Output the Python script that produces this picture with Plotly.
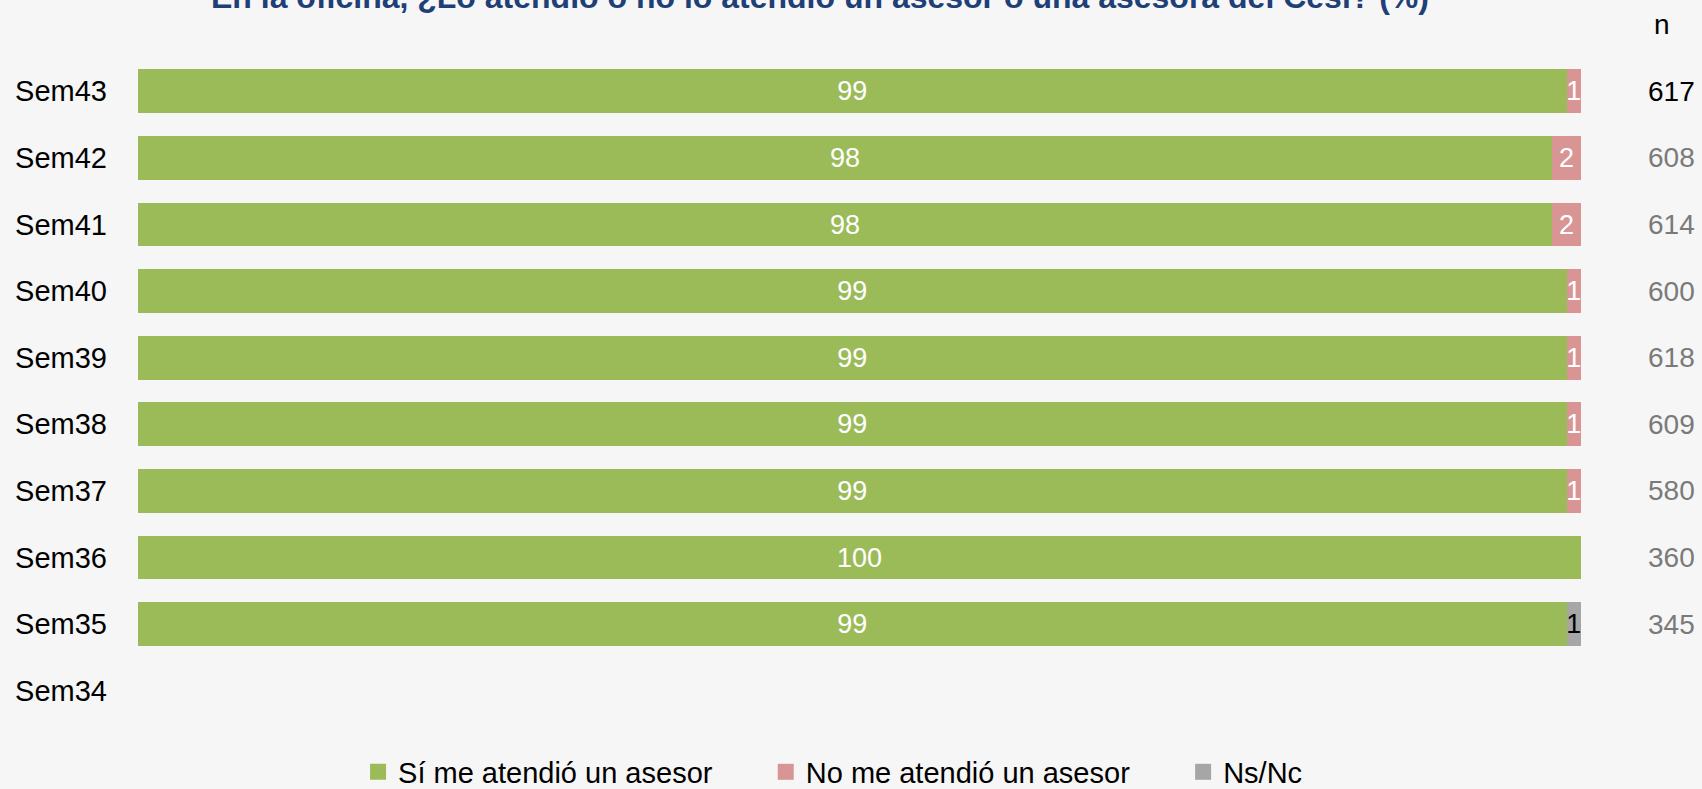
import plotly.graph_objects as go

# Survey weeks, top to bottom
weeks = ["Sem43", "Sem42", "Sem41", "Sem40", "Sem39", "Sem38", "Sem37", "Sem36", "Sem35", "Sem34"]

# Percentages per answer (None = no data)
si_atendio = [99, 98, 98, 99, 99, 99, 99, 100, 99, None]
no_atendio = [1, 2, 2, 1, 1, 1, 1, None, None, None]
ns_nc = [None, None, None, None, None, None, None, None, 1, None]

# Sample size per week
n_values = [617, 608, 614, 600, 618, 609, 580, 360, 345, None]

NBSP = "\u00a0"
series = [
    ("Sí me atendió un asesor", si_atendio, "#9BBB59", "white", 6),
    ("No me atendió un asesor", no_atendio, "#D99594", "white", 6),
    ("Ns/Nc", ns_nc, "#A6A6A6", "black", 0),
]

TITLE = "En la oficina, ¿Lo atendió o no lo atendió un asesor o una asesora del Cesi? (%)"
FONT = "Liberation Sans, Arial, sans-serif"

fig = go.Figure()
for name, vals, color, txtcolor, pad in series:
    fig.add_trace(go.Bar(
        name=name,
        y=weeks,
        x=vals,
        orientation="h",
        marker=dict(color=color, line=dict(width=0)),
        text=[("" if v is None else str(v)) for v in vals],
        textposition="inside",
        insidetextanchor="middle",
        constraintext="none",
        textfont=dict(color=txtcolor, size=27, family=FONT),
        hoverinfo="skip",
        showlegend=False,
    ))

# Legend entries with square swatches
for name, vals, color, txtcolor, pad in series:
    fig.add_trace(go.Scatter(
        name=name + NBSP * pad,
        x=[None], y=[None],
        mode="markers",
        marker=dict(symbol="square", size=16, color=color),
        hoverinfo="skip",
        showlegend=True,
    ))

# n column
fig.add_annotation(x=1.063, xref="paper", y=1, yref="paper", yshift=34,
                   text="n", showarrow=False, yanchor="middle",
                   font=dict(size=28, color="black", family=FONT))
for i, (w, n) in enumerate(zip(weeks, n_values)):
    if n is None:
        continue
    fig.add_annotation(x=1.063, xref="paper", y=w, yref="y", text=str(n),
                       showarrow=False, xanchor="center", yanchor="middle",
                       font=dict(size=28, color="black" if i == 0 else "#7A7A7A", family=FONT))

# Title (sits at the very top edge of the page)
fig.add_annotation(x=0.4726, xref="paper", y=1, yref="paper", yshift=61,
                   text="<b>" + TITLE + "</b>", showarrow=False,
                   xanchor="center", yanchor="middle",
                   font=dict(size=32, color="#1F3F77", family=FONT))

fig.update_layout(
    width=1702, height=789,
    barmode="stack",
    bargap=0.34,
    paper_bgcolor="#F6F6F6",
    plot_bgcolor="rgba(0,0,0,0)",
    margin=dict(l=138, r=121, t=58, b=65, autoexpand=False),
    font=dict(family=FONT, size=29, color="black"),
    showlegend=True,
    legend=dict(
        orientation="h",
        x=0.1525, xanchor="left",
        y=-0.0720, yanchor="middle",
        font=dict(size=29, color="black", family=FONT),
        traceorder="normal",
        itemsizing="trace",
        bgcolor="rgba(0,0,0,0)",
    ),
    xaxis=dict(range=[0, 100], visible=False, fixedrange=True),
    yaxis=dict(
        type="category",
        categoryorder="array", categoryarray=weeks,
        range=[9.5, -0.5],
        showgrid=False, zeroline=False, showline=False, ticks="",
        ticklabelstandoff=30,
        tickfont=dict(size=29, color="black", family=FONT),
    ),
)

fig.write_html("out.html")
